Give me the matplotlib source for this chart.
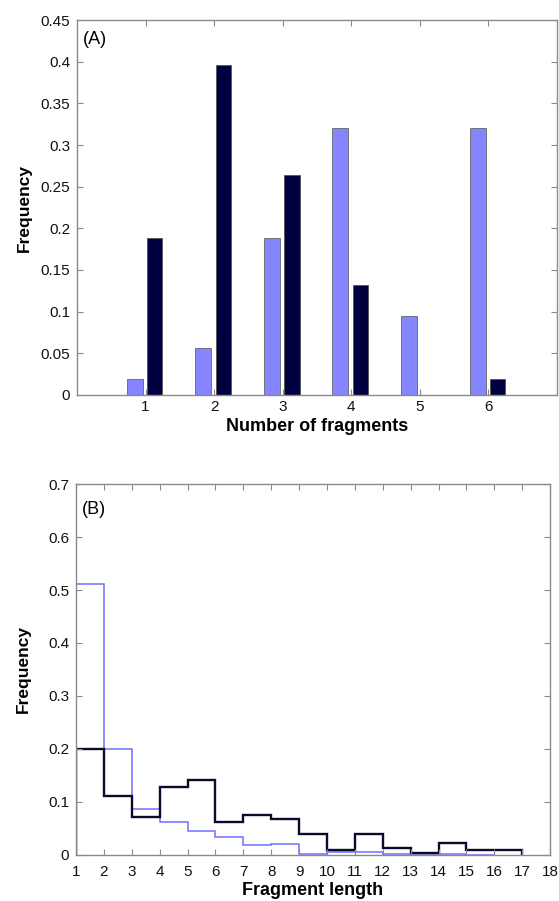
import matplotlib
matplotlib.use("Agg")
import matplotlib.pyplot as plt
import numpy as np

plt.rcParams['font.family'] = ['Liberation Sans', 'DejaVu Sans']

# Panel A data
n_fragments = [1, 2, 3, 4, 5, 6]
freq_light = [0.0189, 0.0566, 0.1887, 0.3208, 0.0943, 0.3208]
freq_dark = [0.1887, 0.3962, 0.2642, 0.1321, 0.0, 0.0189]

# Panel B data (bin edges start at 1)
blue_vals = [0.512, 0.200, 0.087, 0.063, 0.046, 0.034, 0.019, 0.021,
             0.002, 0.005, 0.006, 0.002, 0.001, 0.002, 0.0]
black_vals = [0.200, 0.111, 0.071, 0.128, 0.142, 0.062, 0.076, 0.067,
              0.040, 0.009, 0.040, 0.014, 0.004, 0.023, 0.009, 0.009]

light_c = '#8585ff'
dark_c = '#000040'
spine_c = '#8a8a8a'

fig = plt.figure(figsize=(5.59, 9.01), dpi=100)

def style(ax, xpad):
    for s in ax.spines.values():
        s.set_color(spine_c)
        s.set_linewidth(1.0)
    ax.tick_params(direction='in', length=4, width=0.8, color=spine_c,
                   top=True, right=True, labelsize=11, labelcolor='#111111')
    ax.tick_params(axis='y', pad=5)
    ax.tick_params(axis='x', pad=xpad)

# Panel A
ax1 = fig.add_axes([0.1377, 0.5616, 0.8587, 0.4162])
x = np.array(n_fragments)
ax1.bar(x - 0.158, freq_light, width=0.235, color=light_c, edgecolor='#666666', linewidth=0.6)
ax1.bar(x + 0.134, freq_dark, width=0.223, color=dark_c, edgecolor='#555555', linewidth=0.6)
ax1.set_xlim(0, 7)
ax1.set_ylim(0, 0.45)
ax1.set_xticks(n_fragments)
ax1.set_yticks(np.arange(0, 0.451, 0.05))
ax1.set_yticklabels(['0', '0.05', '0.1', '0.15', '0.2', '0.25', '0.3', '0.35', '0.4', '0.45'])
ax1.set_xlabel('Number of fragments', fontsize=13, fontweight='bold', labelpad=3)
ax1.set_ylabel('Frequency', fontsize=12.5, fontweight='bold', labelpad=6)
ax1.text(0.012, 0.97, '(A)', transform=ax1.transAxes, fontsize=13, va='top', ha='left')
style(ax1, 3.5)

# Panel B
ax2 = fig.add_axes([0.136, 0.0511, 0.848, 0.4117])
edges_blue = np.arange(1, len(blue_vals) + 2)
edges_black = np.arange(1, len(black_vals) + 2)
ax2.stairs(blue_vals, edges_blue, color='#6f6fff', linewidth=1.1, baseline=0)
ax2.stairs(black_vals, edges_black, color='#0a0a2a', linewidth=1.7, baseline=0)
ax2.set_xlim(1, 18)
ax2.set_ylim(0, 0.7)
ax2.set_xticks(np.arange(1, 19))
ax2.set_yticks(np.arange(0, 0.71, 0.1))
ax2.set_yticklabels(['0', '0.1', '0.2', '0.3', '0.4', '0.5', '0.6', '0.7'])
ax2.set_xlabel('Fragment length', fontsize=13, fontweight='bold', labelpad=2.5)
ax2.set_ylabel('Frequency', fontsize=12.5, fontweight='bold', labelpad=12)
ax2.text(0.012, 0.955, '(B)', transform=ax2.transAxes, fontsize=13, va='top', ha='left')
style(ax2, 7)

fig.savefig('out.png', dpi=100)
